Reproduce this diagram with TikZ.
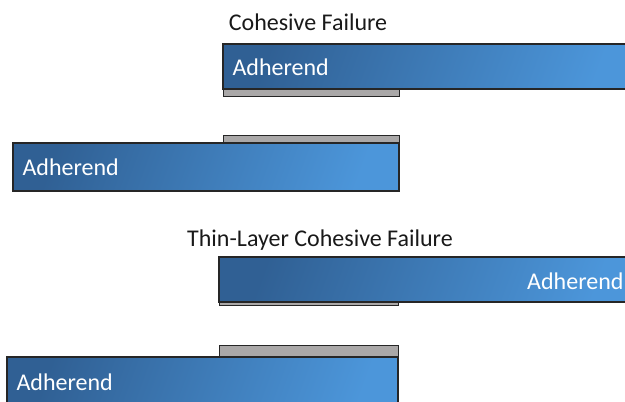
\documentclass[tikz,border=0pt]{standalone}
\usepackage{fontspec}
\setmainfont{Carlito}
\begin{document}
\begin{tikzpicture}[x=1pt,y=-1pt,
  adh/.style={draw=black!85,line width=1.2pt,shading=axis,left color=adhdark,right color=adhlight,shading angle=70},
  adhesive/.style={draw=black!85,line width=1pt,fill=adhgray},
  title/.style={font=\fontsize{24}{28}\selectfont,text=black!90},
  lab/.style={font=\fontsize{24}{28}\selectfont,text=white}]
\definecolor{adhdark}{RGB}{48,96,148}
\definecolor{adhlight}{RGB}{76,150,218}
\definecolor{adhgray}{RGB}{170,168,168}
\useasboundingbox (0,0) rectangle (625,402);
\begin{scope}
\clip (0,0) rectangle (625,402);
% panel 1
\node[title] (t1) at (308,22) {Cohesive Failure};
\draw[adhesive] (223,89) rectangle (399,96);
\draw[adh] (223,44) rectangle (640,89);
\node[lab,anchor=west] (a1) at (229,67) {Adherend};
% panel 2
\draw[adhesive] (223,135) rectangle (399,143);
\draw[adh] (13,143) rectangle (399,191);
\node[lab,anchor=west] (a2) at (19,167) {Adherend};
% panel 3
\node[title] (t2) at (320,240) {Thin-Layer Cohesive Failure};
\draw[adhesive,line width=0.8pt] (219,302) rectangle (398,305);
\draw[adh] (219,257) rectangle (640,302);
\node[lab,anchor=east] (a3) at (627,281) {Adherend};
% panel 4
\draw[adhesive] (219,345) rectangle (398,357);
\draw[adh] (7,357) rectangle (398,420);
\node[lab,anchor=west] (a4) at (13,382) {Adherend};
\end{scope}
\end{tikzpicture}
\end{document}
